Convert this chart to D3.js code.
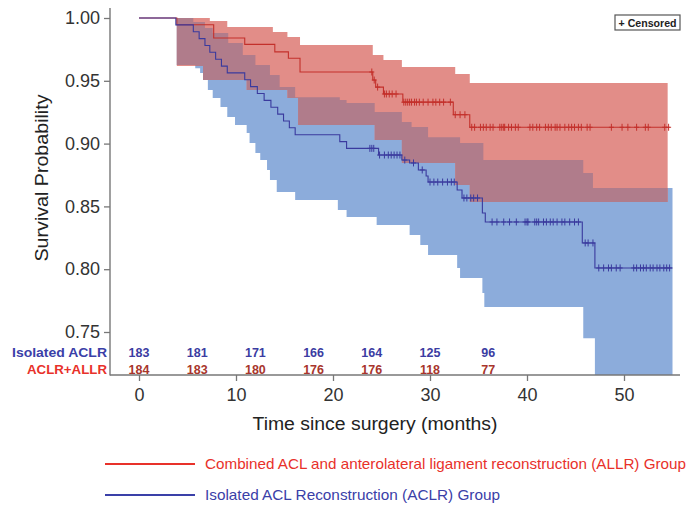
<!DOCTYPE html>
<html><head><meta charset="utf-8">
<script src="https://cdn.jsdelivr.net/npm/d3@7"></script>
<style>body{margin:0;background:#fff}svg{display:block}</style>
</head><body>
<svg id="c" width="687" height="509"></svg>
<script>
// ---------- data ----------
const xTicks = [0,10,20,30,40,50];
const yTicks = [0.75,0.80,0.85,0.90,0.95,1.00];
const riskTimes = [0,6,12,18,24,30,36];
const riskACLR = [183,181,171,166,164,125,96];
const riskALLR = [184,183,180,176,176,118,77];

// Kaplan-Meier steps [month, survival]
const kmALLR = [[0,1],[3.9,0.9946],[7.7,0.9841],[10.9,0.979],[14.0,0.973],[15.4,0.968],[16.6,0.957],
  [24.1,0.9506],[24.4,0.945],[25.2,0.9395],[27.2,0.933],[32.4,0.923],[34.1,0.913]];
const endALLR = 54.7;
const kmACLR = [[0,1],[3.8,0.9945],[5.6,0.9891],[6.2,0.9836],[6.8,0.9781],[7.3,0.9727],[7.9,0.9672],
  [8.5,0.9617],[9.1,0.9563],[10.9,0.9508],[11.5,0.9454],[12.2,0.9399],[12.9,0.9344],[13.6,0.929],
  [14.3,0.9235],[14.9,0.918],[15.5,0.9126],[16.1,0.9071],[20.7,0.9016],[21.4,0.8962],[24.7,0.8909],
  [27.1,0.8869],[27.9,0.8846],[28.8,0.879],[29.6,0.8742],[29.8,0.8694],[32.8,0.8631],[33.3,0.8567],
  [35.4,0.8447],[35.7,0.8376],[45.7,0.8209],[47.0,0.801]];
const endACLR = 55;

// confidence bands [month, lower, upper]
const bandALLR = [[3.9,0.9618,1.0],[6.6,0.9506,1.0],[7.3,0.9506,0.9976],[9.1,0.9506,0.9928],
  [11.1,0.9427,0.9928],[13.8,0.9427,0.9889],[15.3,0.9363,0.9849],[16.4,0.9148,0.9849],
  [16.6,0.9148,0.9785],[24.1,0.9148,0.9705],[24.3,0.9029,0.9705],[25.2,0.9029,0.9666],
  [27.1,0.8846,0.961],[32.6,0.867,0.9554],[34.1,0.8535,0.9482]];
const bandALLREnd = 54.5;
const bandACLR = [[3.9,0.9626,1.0],[5.6,0.9626,0.9968],[5.8,0.960,0.9968],[6.3,0.9562,0.9968],
  [6.6,0.9506,0.9968],[6.8,0.9506,0.992],[7.1,0.9427,0.992],[7.6,0.9363,0.988],[8.4,0.9291,0.988],
  [9.1,0.9212,0.988],[9.2,0.9212,0.980],[9.9,0.9148,0.980],[10.7,0.9148,0.9705],[11.1,0.9084,0.9705],
  [11.4,0.9005,0.9705],[12.0,0.8925,0.9626],[12.5,0.8869,0.9626],[13.2,0.879,0.9626],[13.5,0.871,0.9546],
  [14.2,0.8615,0.9546],[14.5,0.8615,0.945],[16.1,0.8551,0.937],[20.5,0.8471,0.937],[20.7,0.8471,0.9347],
  [21.4,0.8416,0.9323],[24.3,0.8416,0.9252],[24.5,0.8352,0.9252],[27.1,0.8352,0.9172],[27.9,0.8272,0.9172],
  [28.1,0.8272,0.9132],[29.0,0.8193,0.9132],[29.8,0.8113,0.905],[32.8,0.801,0.905],[33.1,0.793,0.9005],
  [35.4,0.781,0.9005],[35.5,0.781,0.8869],[35.6,0.770,0.8869],[45.8,0.745,0.8766],[46.8,0.745,0.8646],
  [47.0,0.70,0.8646]];
const bandACLREnd = 55;

// censoring times (months)
const censALLR = [24.0,24.25,24.6,25.3,25.5,25.8,26.1,26.5,27.3,27.5,27.7,27.9,28.1,28.4,28.6,28.9,29.3,29.8,
  30.3,30.6,31.0,31.4,32.1,32.6,33.1,33.6,34.3,34.6,35.2,35.5,35.8,36.2,36.5,37.2,37.4,37.6,37.7,38.1,38.4,
  38.8,39.1,40.3,40.6,41.0,41.3,41.9,42.2,42.5,42.9,43.1,43.4,43.9,44.3,44.6,44.9,45.3,45.6,46.2,46.5,
  48.7,49.8,50.4,51.3,52.2,52.5,54.2,54.6];
const censACLR = [23.8,24.0,24.2,24.8,25.3,25.7,26.0,26.3,26.6,26.9,27.4,28.3,29.2,30.0,30.4,30.8,31.3,31.8,
  32.2,32.5,33.5,33.8,34.2,34.5,34.9,36.4,36.9,37.6,38.2,38.9,39.8,40.0,40.1,40.8,41.0,41.2,41.7,42.0,42.4,
  42.7,43.1,43.6,43.9,44.4,44.9,45.3,46.0,46.3,46.8,47.4,47.9,48.4,48.7,49.2,49.6,51.0,51.3,51.7,52.0,52.3,
  52.7,53.0,53.4,53.7,54.1,54.4,54.7];

const colors = {
  bandRed:'#e28d88', bandBlue:'#8cacdb', bandOverlap:'#b07c8b',
  lineRed:'#c3302b', lineBlue:'#3a3a9e', labelRed:'#e8312a', labelBlue:'#3a40a8',
  numRed:'#a8352c', numBlue:'#3b3ca2'
};

// ---------- scales ----------
const svg = d3.select('#c');
const x = d3.scaleLinear().domain([0,55]).range([139,672.5]);
const y = d3.scaleLinear().domain([0.75,1.0]).range([332,18]);
const plotTop = 8, plotBottom = 375, plotLeft = 110, plotRight = 680;

svg.append('defs').append('clipPath').attr('id','clip')
  .append('rect').attr('x',plotLeft).attr('y',0).attr('width',plotRight-plotLeft+10).attr('height',plotBottom);

const g = svg.append('g').attr('clip-path','url(#clip)');

function stepVal(arr, t, idx){ let v = arr[0][idx]; for (const r of arr){ if (r[0] <= t) v = r[idx]; else break; } return v; }
function withEnd(arr, end){ return arr.concat([[end].concat(arr[arr.length-1].slice(1))]); }

const area = d3.area().curve(d3.curveStepAfter)
  .x(d=>x(d[0])).y0(d=>y(d[1])).y1(d=>y(d[2]));

g.append('path').datum(withEnd(bandACLR,bandACLREnd)).attr('d',area).attr('fill',colors.bandBlue);
g.append('path').datum(withEnd(bandALLR,bandALLREnd)).attr('fill',colors.bandRed).attr('d',area);

// overlap
const tStart = Math.max(bandACLR[0][0], bandALLR[0][0]);
const tEnd = Math.min(bandACLREnd, bandALLREnd);
const times = Array.from(new Set(bandACLR.map(d=>d[0]).concat(bandALLR.map(d=>d[0])))).filter(t=>t>=tStart && t<tEnd).sort((a,b)=>a-b);
const ov = times.map(t=>{
  const lo = Math.max(stepVal(bandACLR,t,1), stepVal(bandALLR,t,1));
  const hi = Math.min(stepVal(bandACLR,t,2), stepVal(bandALLR,t,2));
  return [t, lo, Math.max(lo,hi)];
});
g.append('path').datum(withEnd(ov,tEnd)).attr('d',area).attr('fill',colors.bandOverlap);

// KM lines
const line = d3.line().curve(d3.curveStepAfter).x(d=>x(d[0])).y(d=>y(d[1]));
g.append('path').datum(withEnd(kmALLR,endALLR)).attr('d',line).attr('fill','none').attr('stroke',colors.lineRed).attr('stroke-width',1.1);
g.append('path').datum(withEnd(kmACLR,endACLR)).attr('d',line).attr('fill','none').attr('stroke',colors.lineBlue).attr('stroke-width',1.1);

function drawCens(times, km, col){
  g.append('g').selectAll('path').data(times).join('path')
    .attr('d', t=>{ const px=x(t), py=y(stepVal(km,t,1)); return `M${px},${py-3.5}V${py+3.5}M${px-2.5},${py}H${px+2.5}`; })
    .attr('stroke',col).attr('stroke-width',1).attr('fill','none');
}
drawCens(censALLR, kmALLR, colors.lineRed);
drawCens(censACLR, kmACLR, colors.lineBlue);

// ---------- axes ----------
const axisCol = '#777';
const yAx = svg.append('g').attr('transform',`translate(${plotLeft},0)`)
  .call(d3.axisLeft(y).tickValues(yTicks).tickFormat(d3.format('.2f')).tickSize(6).tickPadding(4).tickSizeOuter(0));
yAx.select('.domain').remove();
yAx.selectAll('line').attr('stroke',axisCol).attr('stroke-width',1.3);
yAx.selectAll('text').attr('font-family','Liberation Sans, Arial, sans-serif').attr('font-size',18).attr('fill','#333');

const xAx = svg.append('g').attr('transform',`translate(0,${plotBottom})`)
  .call(d3.axisBottom(x).tickValues(xTicks).tickFormat(d3.format('d')).tickSize(6).tickPadding(7).tickSizeOuter(0));
xAx.select('.domain').remove();
xAx.selectAll('line').attr('stroke',axisCol).attr('stroke-width',1.3);
xAx.selectAll('text').attr('font-family','Liberation Sans, Arial, sans-serif').attr('font-size',18).attr('fill','#333');

svg.append('line').attr('x1',plotLeft).attr('x2',plotLeft).attr('y1',plotTop).attr('y2',plotBottom+0.6)
  .attr('stroke',axisCol).attr('stroke-width',1.4);
svg.append('line').attr('x1',plotLeft).attr('x2',plotRight).attr('y1',plotBottom).attr('y2',plotBottom)
  .attr('stroke',axisCol).attr('stroke-width',1.4);

// axis titles
svg.append('text').attr('x',375).attr('y',430).attr('text-anchor','middle')
  .attr('font-family','Liberation Sans, Arial, sans-serif').attr('font-size',18).attr('fill','#222')
  .attr('textLength',245).attr('lengthAdjust','spacingAndGlyphs')
  .text('Time since surgery (months)');
svg.append('text').attr('transform','translate(48,178) rotate(-90)').attr('text-anchor','middle')
  .attr('font-family','Liberation Sans, Arial, sans-serif').attr('font-size',18).attr('fill','#222')
  .attr('textLength',167).attr('lengthAdjust','spacingAndGlyphs')
  .text('Survival Probability');

// ---------- number at risk ----------
const rf = 'Liberation Sans, Arial, sans-serif';
svg.append('text').attr('x',107).attr('y',357).attr('text-anchor','end').attr('font-family',rf)
  .attr('font-size',13).attr('font-weight','bold').attr('fill',colors.labelBlue)
  .attr('textLength',95).attr('lengthAdjust','spacingAndGlyphs').text('Isolated ACLR');
svg.append('text').attr('x',107).attr('y',374).attr('text-anchor','end').attr('font-family',rf)
  .attr('font-size',13).attr('font-weight','bold').attr('fill',colors.labelRed)
  .attr('textLength',80).attr('lengthAdjust','spacingAndGlyphs').text('ACLR+ALLR');
svg.append('g').selectAll('text').data(riskACLR).join('text')
  .attr('x',(d,i)=>x(riskTimes[i])).attr('y',357).attr('text-anchor','middle')
  .attr('font-family',rf).attr('font-size',12.5).attr('font-weight','bold').attr('fill',colors.numBlue).text(d=>d);
svg.append('g').selectAll('text').data(riskALLR).join('text')
  .attr('x',(d,i)=>x(riskTimes[i])).attr('y',374).attr('text-anchor','middle')
  .attr('font-family',rf).attr('font-size',12.5).attr('font-weight','bold').attr('fill',colors.numRed).text(d=>d);

// ---------- censored box ----------
svg.append('rect').attr('x',615).attr('y',15).attr('width',65).attr('height',15)
  .attr('fill','#fff').attr('stroke','#555').attr('stroke-width',1.2);
svg.append('text').attr('x',647.5).attr('y',26.5).attr('text-anchor','middle')
  .attr('font-family',rf).attr('font-size',10.5).attr('font-weight','bold').attr('fill','#222')
  .attr('textLength',58).attr('lengthAdjust','spacingAndGlyphs').text('+ Censored');

// ---------- bottom legend ----------
const legend = [
  {label:'Combined ACL and anterolateral ligament reconstruction (ALLR) Group', col:colors.labelRed, w:481},
  {label:'Isolated ACL Reconstruction (ACLR) Group', col:colors.labelBlue, w:295}
];
legend.forEach((d,i)=>{
  const ly = 464 + i*31;
  svg.append('line').attr('x1',105).attr('x2',195).attr('y1',ly).attr('y2',ly).attr('stroke',d.col).attr('stroke-width',2);
  svg.append('text').attr('x',205).attr('y',ly+5).attr('font-family',rf).attr('font-size',14.5)
    .attr('fill',d.col).attr('textLength',d.w).attr('lengthAdjust','spacingAndGlyphs').text(d.label);
});
</script>
</body></html>
